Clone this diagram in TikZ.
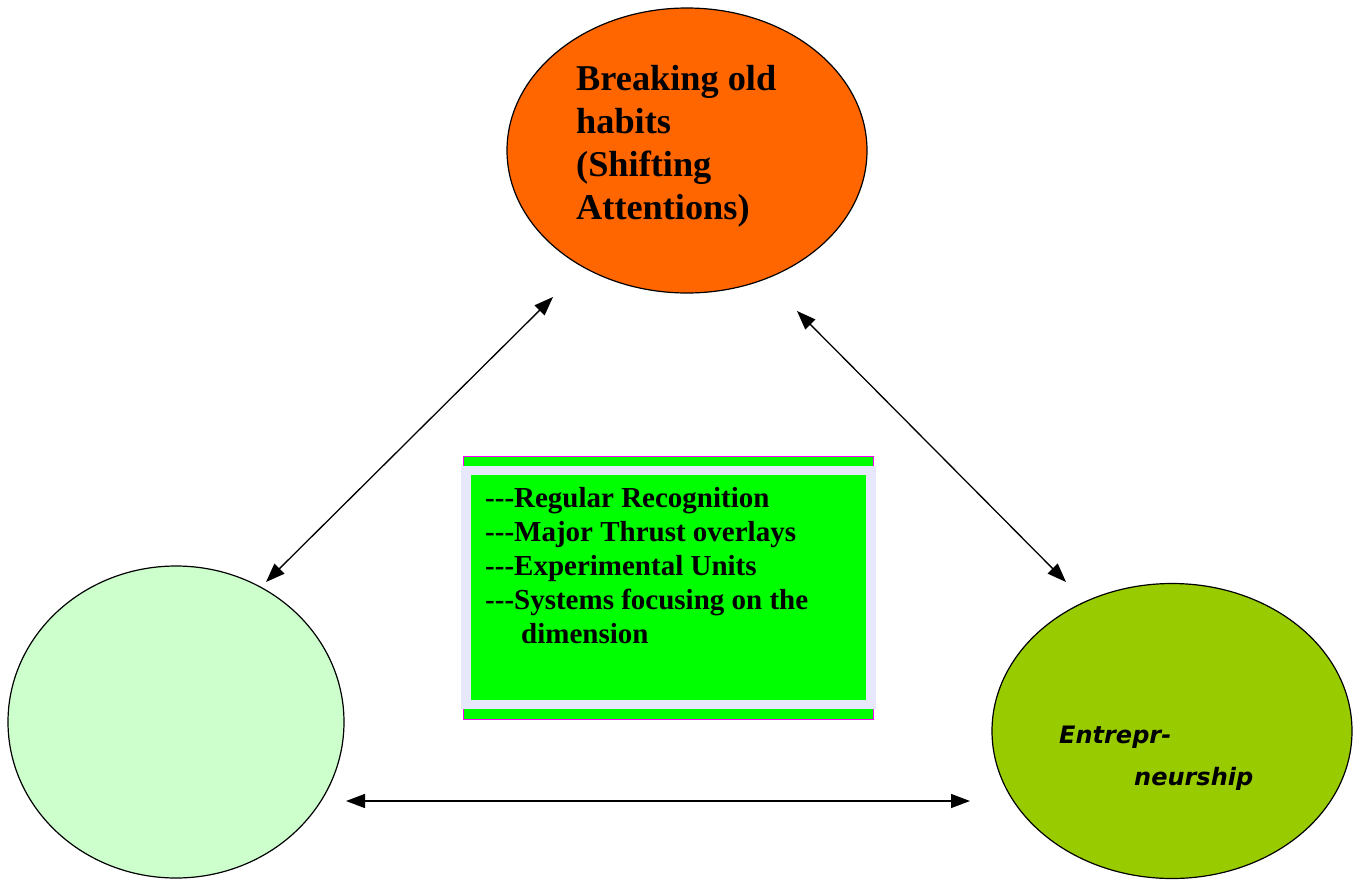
\documentclass[tikz,border=0pt]{standalone}
\usepackage{fontspec}
\setmainfont{Liberation Serif}
\newfontfamily\entfont{DejaVu Sans}
\usetikzlibrary{shapes.geometric,arrows.meta}
\definecolor{orangeF}{RGB}{255,102,0}
\definecolor{paleG}{RGB}{204,255,204}
\definecolor{limeG}{RGB}{153,204,0}
\definecolor{boxG}{RGB}{0,255,0}
\definecolor{lav}{RGB}{232,232,252}
\definecolor{mag}{RGB}{255,0,255}
\newcommand{\tdash}{-{}-{}-}
\begin{document}
\begin{tikzpicture}[x=1pt,y=-1pt,
  bubble/.style={ellipse,draw=black,line width=1.2pt,inner sep=0pt},
  link/.style={line width=1.3pt,{Triangle[length=19pt,width=14pt]}-{Triangle[length=19pt,width=14pt]}},
  ttxt/.style={anchor=base west,inner sep=0pt,font=\fontsize{36.3}{43}\selectfont\bfseries},
  btxt/.style={anchor=base west,inner sep=0pt,font=\fontsize{29}{34}\selectfont\bfseries},
  etxt/.style={anchor=base west,inner sep=0pt,font=\fontsize{24}{30}\selectfont\entfont\bfseries\itshape}]
\useasboundingbox (0,0) rectangle (1357,881);
% ellipses
\node[bubble,fill=orangeF,minimum width=360pt,minimum height=285pt] (top) at (687,150.5) {};
\node[bubble,fill=paleG,minimum width=336pt,minimum height=312pt] (left) at (176,722) {};
\node[bubble,fill=limeG,minimum width=360pt,minimum height=295pt] (right) at (1172,731) {};
% top text
\node[ttxt] (t1) at (576,90) {Breaking old};
\node[ttxt] (t2) at (576,133) {habits};
\node[ttxt] (t3) at (576,176) {(Shifting};
\node[ttxt] (t4) at (576,219) {Attentions)};
% right text
\node[etxt] (e1) at (1059,743) {Entrepr-};
\node[etxt] (e2) at (1134,785) {neurship};
% central box
\draw[draw=mag,fill=boxG,line width=1pt] (463,456) rectangle (873,719);
\fill[lav] (461,466) rectangle (876,709);
\node[fill=boxG,inner sep=0pt,minimum width=395pt,minimum height=225pt,anchor=north west] (box) at (471,475) {};
\node[btxt] (b1) at (485,507) {\tdash Regular Recognition};
\node[btxt] (b2) at (485,541) {\tdash Major Thrust overlays};
\node[btxt] (b3) at (485,575) {\tdash Experimental Units};
\node[btxt] (b4) at (485,609) {\tdash Systems focusing on the};
\node[btxt] (b5) at (521,643) {dimension};
% connectors
\coordinate (a1) at (553,297);
\coordinate (a2) at (266,582);
\coordinate (c1) at (797,311);
\coordinate (c2) at (1066,582);
\coordinate (d1) at (346,801);
\coordinate (d2) at (970,801);
\draw[link] (a1) -- (a2);
\draw[link] (c1) -- (c2);
\draw[link] (d1) -- (d2);
\end{tikzpicture}
\end{document}
